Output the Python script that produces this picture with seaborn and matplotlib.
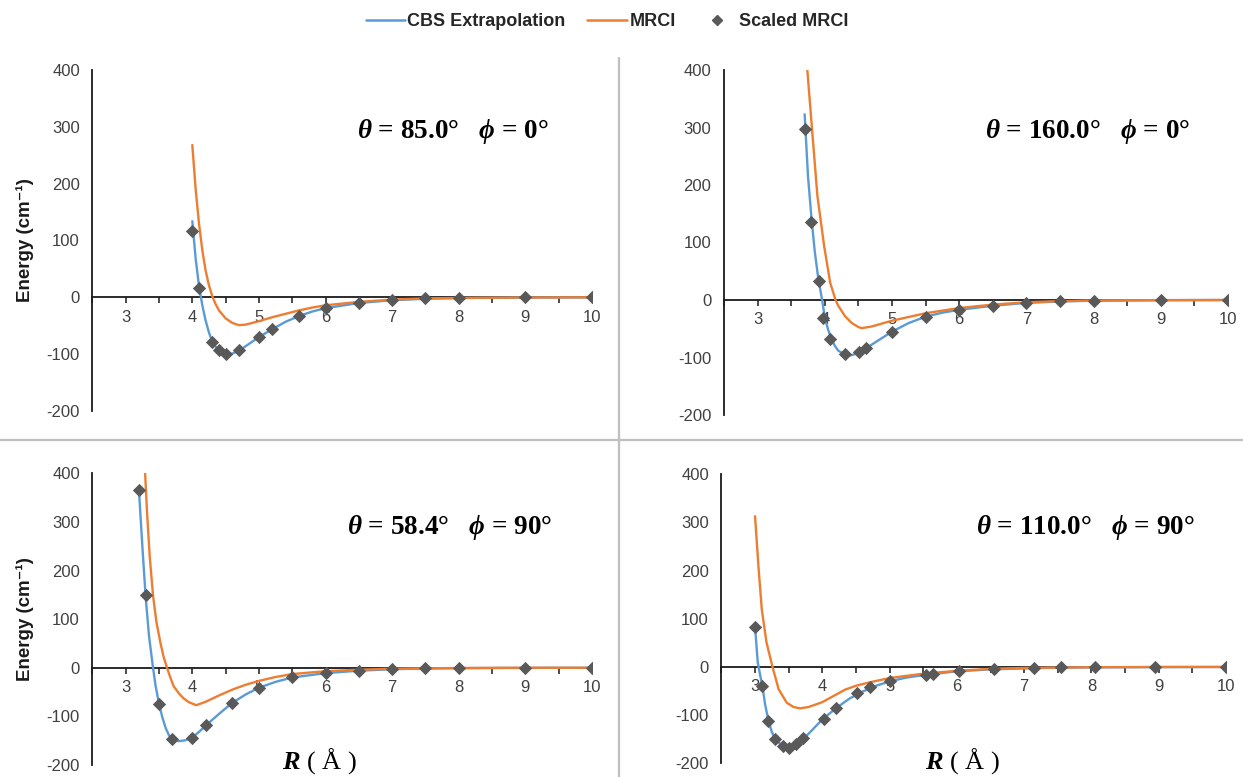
import numpy as np
import pandas as pd
import matplotlib
matplotlib.use("Agg")
import matplotlib.pyplot as plt
from matplotlib.lines import Line2D
from matplotlib.ticker import MultipleLocator
import seaborn as sns

# ---------------- data ----------------
# Panel 1: theta = 85.0, phi = 0
cbs1_r = [4.0, 4.05, 4.1, 4.15, 4.2, 4.25, 4.3, 4.35, 4.4, 4.5, 4.6, 4.7, 4.8, 4.9, 5.0,
          5.2, 5.4, 5.6, 5.8, 6.0, 6.5, 7.0, 7.5, 8.0, 9.0, 10.0]
cbs1_e = [134, 68, 20, -14, -41, -62, -78, -87, -93, -100, -99, -94, -86, -78, -70,
          -56, -43, -33, -25, -19, -10, -5, -2.5, -1.2, -0.4, 0]
mrci1_r = [4.0, 4.05, 4.1, 4.15, 4.2, 4.25, 4.3, 4.35, 4.4, 4.5, 4.6, 4.7, 4.8, 5.0,
           5.2, 5.4, 5.6, 5.8, 6.0, 6.5, 7.0, 7.5, 8.0, 9.0, 10.0]
mrci1_e = [268, 190, 130, 83, 47, 21, 2, -12, -23, -37, -45, -49, -48, -42,
           -35, -29, -23, -18, -14, -8, -4, -2, -1, -0.3, 0]
scaled1_r = [4.0, 4.1, 4.3, 4.4, 4.5, 4.7, 5.0, 5.2, 5.6, 6.0, 6.5, 7.0, 7.5, 8.0, 9.0, 10.0]
scaled1_e = [116, 17, -78, -92, -100, -93, -70, -55, -32, -18, -10, -5, -2, -1, 0, 0]

# Panel 2: theta = 160.0, phi = 0
cbs2_r = [3.7, 3.75, 3.8, 3.85, 3.9, 3.96, 4.0, 4.05, 4.1, 4.15, 4.2, 4.3, 4.4, 4.5,
          4.6, 4.8, 5.0, 5.25, 5.5, 5.75, 6.0, 6.5, 7.0, 7.5, 8.0, 9.0, 10.0]
cbs2_e = [323, 215, 145, 85, 40, 0, -30, -52, -68, -80, -88, -95, -96, -92,
          -85, -70, -55, -40, -29, -22, -17, -10, -5, -2.5, -1.2, -0.3, 0]
mrci2_r = [3.73, 3.74, 3.81, 3.89, 3.99, 4.08, 4.16, 4.2, 4.3, 4.4, 4.5, 4.55, 4.7, 5.0,
           5.5, 6.0, 6.5, 7.0, 7.5, 8.0, 9.0, 10.0]
mrci2_e = [420, 400, 297, 181, 94, 30, 0, -10, -28, -40, -47, -49, -46, -36,
           -23, -14, -8, -4, -2, -1, -0.3, 0]
scaled2_r = [3.7, 3.8, 3.91, 3.98, 4.08, 4.3, 4.51, 4.61, 5.0, 5.5, 6.0, 6.5, 7.0, 7.5, 8.0, 9.0, 10.0]
scaled2_e = [297, 136, 33, -32, -67, -94, -91, -84, -55, -29, -17, -10, -5, -2, -1, 0, 0]

# Panel 3: theta = 58.4, phi = 90
cbs3_r = [3.2, 3.25, 3.3, 3.35, 3.41, 3.45, 3.5, 3.55, 3.6, 3.65, 3.7, 3.8, 3.9, 4.0,
          4.1, 4.2, 4.4, 4.6, 4.8, 5.0, 5.25, 5.5, 6.0, 6.5, 7.0, 7.5, 8.0, 9.0, 10.0]
cbs3_e = [362, 250, 145, 65, 0, -38, -74, -102, -124, -139, -147, -151, -149, -143,
          -132, -119, -95, -72, -55, -41, -29, -20, -11, -6, -3, -1.5, -0.8, -0.2, 0]
mrci3_r = [3.29, 3.32, 3.36, 3.41, 3.46, 3.52, 3.57, 3.62, 3.67, 3.72, 3.8, 3.87, 3.95,
           4.06, 4.2, 4.4, 4.6, 4.8, 5.0, 5.25, 5.5, 6.0, 6.5, 7.0, 8.0, 9.0, 10.0]
mrci3_e = [404, 320, 230, 149, 95, 52, 22, 0, -20, -38, -53, -63, -71,
           -77, -70, -57, -45, -35, -27, -19, -13, -7, -4, -2, -0.5, 0, 0]
scaled3_r = [3.2, 3.3, 3.5, 3.7, 4.0, 4.2, 4.6, 5.0, 5.5, 6.0, 6.5, 7.0, 7.5, 8.0, 9.0, 10.0]
scaled3_e = [365, 149, -75, -147, -144, -118, -72, -41, -19, -11, -6, -3, -1, 0, 0, 0]

# Panel 4: theta = 110.0, phi = 90
cbs4_r = [3.0, 3.04, 3.08, 3.11, 3.15, 3.2, 3.25, 3.3, 3.4, 3.5, 3.6, 3.7, 3.8, 4.0,
          4.2, 4.4, 4.6, 4.8, 5.0, 5.25, 5.5, 6.0, 6.5, 7.0, 7.5, 8.0, 9.0, 10.0]
cbs4_e = [83, 10, -20, -40, -78, -112, -135, -150, -163, -168, -163, -151, -138, -109,
          -86, -66, -51, -39, -30, -22, -17, -9, -5, -3, -1.5, -0.8, -0.3, 0]
mrci4_r = [3.0, 3.05, 3.1, 3.17, 3.26, 3.35, 3.47, 3.57, 3.67, 3.8, 4.0, 4.17, 4.34,
           4.5, 4.7, 5.0, 5.5, 6.0, 6.5, 7.0, 8.0, 9.0, 10.0]
mrci4_e = [313, 210, 120, 51, 0, -46, -74, -83, -86, -83, -73, -60, -47,
           -39, -32, -23, -14, -8, -4, -2, -0.5, 0, 0]
scaled4_r = [3.0, 3.11, 3.2, 3.3, 3.41, 3.51, 3.61, 3.72, 4.02, 4.2, 4.52, 4.71, 5.01,
             5.54, 5.65, 6.03, 6.55, 7.15, 7.55, 8.05, 8.95, 10.0]
scaled4_e = [82, -39, -113, -150, -164, -169, -160, -148, -107, -86, -55, -41, -30,
             -17, -14, -9, -5, -2, -1, -1, -1, -1]

panel_titles = [r"$\theta$ = 85.0°   $\phi$ = 0°", r"$\theta$ = 160.0°   $\phi$ = 0°",
                r"$\theta$ = 58.4°   $\phi$ = 90°", r"$\theta$ = 110.0°   $\phi$ = 90°"]
series_labels = ["CBS Extrapolation", "MRCI", "Scaled MRCI"]
x_ticks = [3, 4, 5, 6, 7, 8, 9, 10]
y_ticks = [-200, -100, 0, 100, 200, 300, 400]

# ---------------- style ----------------
sns.set_style("white")
plt.rcParams["font.family"] = ["Liberation Sans", "DejaVu Sans"]
plt.rcParams["axes.unicode_minus"] = False
plt.rcParams["mathtext.fontset"] = "custom"
plt.rcParams["mathtext.it"] = "Liberation Serif:italic:bold"
plt.rcParams["mathtext.rm"] = "Liberation Serif:bold"
plt.rcParams["mathtext.bf"] = "Liberation Serif:bold"

BLUE = "#5B9BD5"
ORANGE = "#ED7D31"
GRAY = "#595959"
TXT = "#404040"

W, H = 1243, 777
fig = plt.figure(figsize=(W / 100, H / 100), dpi=100)


def rect(x0, x1, y_top, y_bot):
    return [x0 / W, 1 - y_bot / H, (x1 - x0) / W, (y_bot - y_top) / H]


layout = [
    dict(rect=rect(92.4, 592, 70, 411), title_xy=(453, 131), ylabel=True, xlabel_xy=None),
    dict(rect=rect(724, 1228, 70, 415), title_xy=(1088, 131), ylabel=False, xlabel_xy=None),
    dict(rect=rect(92.4, 592, 473.3, 765), title_xy=(450, 527), ylabel=True, xlabel_xy=(319, 761)),
    dict(rect=rect(721.4, 1226, 474.3, 763.3), title_xy=(1085, 527), ylabel=False, xlabel_xy=(962, 761)),
]
data = [
    (cbs1_r, cbs1_e, mrci1_r, mrci1_e, scaled1_r, scaled1_e),
    (cbs2_r, cbs2_e, mrci2_r, mrci2_e, scaled2_r, scaled2_e),
    (cbs3_r, cbs3_e, mrci3_r, mrci3_e, scaled3_r, scaled3_e),
    (cbs4_r, cbs4_e, mrci4_r, mrci4_e, scaled4_r, scaled4_e),
]

for lay, (cr, ce, mr, me, sr, se), title in zip(layout, data, panel_titles):
    ax = fig.add_axes(lay["rect"])
    ax.set_facecolor("none")
    sns.lineplot(x=cr, y=ce, ax=ax, color=BLUE, lw=1.7, sort=False, estimator=None, zorder=3)
    sns.lineplot(x=mr, y=me, ax=ax, color=ORANGE, lw=1.7, sort=False, estimator=None, zorder=4)
    sns.scatterplot(x=sr, y=se, ax=ax, marker="D", s=46, color=GRAY, edgecolor=GRAY,
                    linewidth=0, zorder=5)
    ax.set_xlim(2.5, 10)
    ax.set_ylim(-200, 400)
    for s in ("top", "right"):
        ax.spines[s].set_visible(False)
    ax.spines["bottom"].set_position(("data", 0))
    for s in ("left", "bottom"):
        ax.spines[s].set_color("#1a1a1a")
        ax.spines[s].set_linewidth(1.3)
    ax.set_xticks(x_ticks)
    ax.xaxis.set_minor_locator(MultipleLocator(0.5))
    ax.set_yticks(y_ticks)
    ax.tick_params(axis="x", which="both", direction="out", length=4, width=1.1,
                   color="#1a1a1a", labelsize=12, labelcolor=TXT, pad=5, bottom=True)
    ax.tick_params(axis="y", which="both", length=0, labelsize=12, labelcolor=TXT, pad=9)
    ax.set_xlabel("")
    if lay["ylabel"]:
        ax.set_ylabel("Energy (cm⁻¹)", fontsize=13.5, fontweight="bold", color="#1a1a1a")
        ax.yaxis.set_label_coords(-0.116, 0.5)
    else:
        ax.set_ylabel("")
    tx, ty = lay["title_xy"]
    fig.text(tx / W, 1 - ty / H, title, ha="center", va="center", fontsize=19.5,
             family="Liberation Serif", fontweight="bold", color="black")
    if lay["xlabel_xy"] is not None:
        lx, ly = lay["xlabel_xy"]
        fig.text(lx / W, 1 - ly / H, r"$R$ ( Å )", ha="center", va="center", fontsize=19,
                 family="Liberation Serif", color="black")

# panel separators
fig.add_artist(Line2D([0, 1], [1 - 440 / H] * 2, transform=fig.transFigure,
                      color="#BFBFBF", lw=1.6))
fig.add_artist(Line2D([619 / W] * 2, [0, 1 - 58 / H], transform=fig.transFigure,
                      color="#BFBFBF", lw=1.6))

handles = [Line2D([], [], color=BLUE, lw=1.8),
           Line2D([], [], color=ORANGE, lw=1.8),
           Line2D([], [], color=GRAY, marker="D", markersize=5.5, linestyle="none")]
fig.legend(handles, series_labels, loc="center", bbox_to_anchor=(607 / W, 1 - 22 / H),
           ncol=3, frameon=False, prop={"weight": "bold", "size": 13},
           handlelength=2.2, handletextpad=0.12, columnspacing=1.2)

fig.savefig("out.png", dpi=100)
